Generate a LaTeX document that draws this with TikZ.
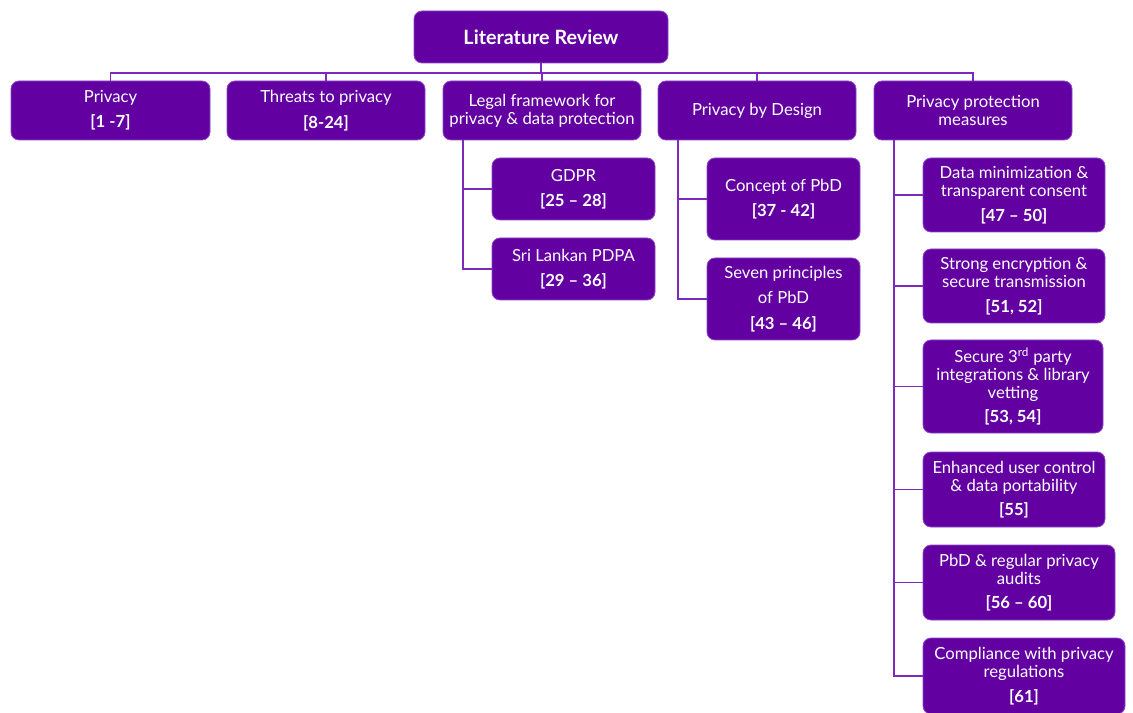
\documentclass[tikz,border=0pt]{standalone}
\usepackage{fontspec}
\setmainfont{Lato}
\usepackage{tikz}

\definecolor{boxfill}{RGB}{99,0,161}
\definecolor{boxline}{RGB}{140,70,200}
\definecolor{wire}{RGB}{125,40,190}

\begin{document}
\begin{tikzpicture}[x=0.75pt,y=-0.75pt,
  box/.style={draw=boxline,line width=0.6pt,fill=boxfill,rounded corners=6pt,
    text=white,align=center,inner sep=0pt,
    font=\fontsize{12.5}{13.5}\selectfont},
  wire/.style={draw=wire,line width=1.4pt}]
\useasboundingbox (0,0) rectangle (1133,713);
% top
\node [box,minimum width=190.5pt,minimum height=39pt,font=\fontsize{14.8}{16}\selectfont\bfseries] (title) at (541,37) {Literature Review};
% first level
\node [box,minimum width=149.25pt,minimum height=44.25pt] (privacy) at (110.5,110.5) {Privacy\\[5.5pt]\textbf{[1 -7]}};
\node [box,minimum width=148.5pt,minimum height=44.25pt] (threats) at (326,110.5) {Threats to privacy\\[5.5pt]\textbf{[8-24]}};
\node [box,minimum width=148.5pt,minimum height=44.25pt] (legal) at (542,110.5) {Legal framework for\\privacy \& data protection};
\node [box,minimum width=148.5pt,minimum height=44.25pt] (pbd) at (757,110.5) {Privacy by Design};
\node [box,minimum width=148.5pt,minimum height=44.25pt] (measures) at (973,110.5) {Privacy protection\\measures};
\foreach \n in {privacy,threats,legal,pbd,measures}
  \draw [wire] (title.south) -- ++(0,10) -| (\n.north);
% legal framework
\node [box,minimum width=122.25pt,minimum height=46.5pt] (gdpr) at (573.5,189) {GDPR\\[5.5pt]\textbf{[25 – 28]}};
\node [box,minimum width=122.25pt,minimum height=46.5pt] (pdpa) at (573.5,269) {Sri Lankan PDPA\\[5.5pt]\textbf{[29 – 36]}};
\foreach \n in {gdpr,pdpa}
  \draw [wire] ([xshift=15pt]legal.south west) |- (\n.west);
% privacy by design
\node [box,minimum width=114.75pt,minimum height=61.5pt] (concept) at (783.5,199) {Concept of PbD\\[5.5pt]\textbf{[37 - 42]}};
\node [box,minimum width=114.75pt,minimum height=61.5pt] (seven) at (783.5,299) {Seven principles\\[5.5pt]of PbD\\[5.5pt]\textbf{[43 – 46]}};
\foreach \n in {concept,seven}
  \draw [wire] ([xshift=15pt]pbd.south west) |- (\n.west);
% protection measures
\node [box,minimum width=136.5pt,minimum height=55.5pt] (datamin) at (1014,195) {Data minimization \&\\transparent consent\\[5pt]\textbf{[47 – 50]}};
\node [box,minimum width=136.5pt,minimum height=55.5pt] (encrypt) at (1014,286) {Strong encryption \&\\secure transmission\\[5pt]\textbf{[51, 52]}};
\node [box,minimum width=135pt,minimum height=69.75pt] (thirdparty) at (1013,386.5) {Secure 3\textsuperscript{rd} party\\integrations \& library\\vetting\\[5pt]\textbf{[53, 54]}};
\node [box,minimum width=136.5pt,minimum height=56.25pt] (usercontrol) at (1014,489.5) {Enhanced user control\\\& data portability\\[5pt]\textbf{[55]}};
\node [box,minimum width=144pt,minimum height=56.25pt] (audits) at (1019,582.5) {PbD \& regular privacy\\audits\\[5pt]\textbf{[56 – 60]}};
\node [box,minimum width=151.5pt,minimum height=57pt] (compliance) at (1024,676) {Compliance with privacy\\regulations\\[5pt]\textbf{[61]}};
\foreach \n in {datamin,encrypt,thirdparty,usercontrol,audits,compliance}
  \draw [wire] ([xshift=15pt]measures.south west) |- (\n.west);
\end{tikzpicture}
\end{document}
